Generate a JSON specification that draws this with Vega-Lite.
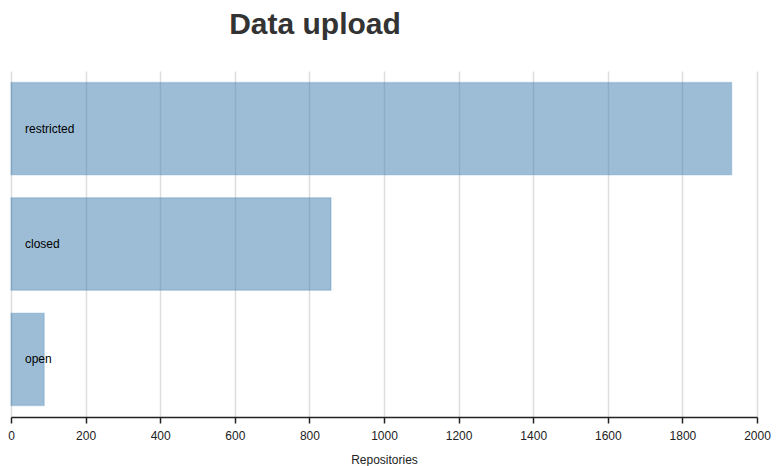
{
  "$schema": "https://vega.github.io/schema/vega-lite/v6.json",
  "width": 746,
  "height": 346,
  "autosize": {"type": "none"},
  "padding": {"left": 11, "top": 71, "right": 19, "bottom": 49},
  "title": {
    "text": "Data upload",
    "font": "Liberation Sans",
    "fontSize": 30,
    "fontWeight": "bold",
    "color": "#333333",
    "anchor": "middle",
    "frame": "group",
    "dx": -69,
    "offset": 31
  },
  "data": {
    "values": [
      {"access": "restricted", "repositories": 1932},
      {"access": "closed", "repositories": 858},
      {"access": "open", "repositories": 89}
    ]
  },
  "encoding": {
    "y": {
      "field": "access",
      "type": "nominal",
      "sort": ["restricted", "closed", "open"],
      "scale": {"paddingInner": 0.2, "paddingOuter": 0.1},
      "axis": null
    }
  },
  "layer": [
    {
      "mark": {
        "type": "bar",
        "fill": "#4682b4",
        "fillOpacity": 0.53,
        "stroke": "#4682b4",
        "strokeOpacity": 0.25,
        "strokeWidth": 1.5
      },
      "encoding": {
        "x": {
          "field": "repositories",
          "type": "quantitative",
          "scale": {"domain": [0, 2000], "nice": false},
          "axis": {
            "values": [0, 200, 400, 600, 800, 1000, 1200, 1400, 1600, 1800, 2000],
            "format": "d",
            "title": "Repositories",
            "grid": true,
            "gridColor": "#dddddd",
            "gridWidth": 1.5,
            "domainColor": "#222222",
            "domainWidth": 1.5,
            "tickColor": "#222222",
            "tickWidth": 1.5,
            "tickSize": 6,
            "labelFont": "Liberation Sans",
            "labelFontSize": 12,
            "labelColor": "#222222",
            "labelPadding": 7,
            "labelFlush": false,
            "titleFont": "Liberation Sans",
            "titleFontSize": 12,
            "titleFontWeight": "normal",
            "titleColor": "#222222",
            "titlePadding": 13
          }
        }
      }
    },
    {
      "mark": {
        "type": "text",
        "align": "left",
        "baseline": "middle",
        "dx": 14,
        "font": "Liberation Sans",
        "fontSize": 12,
        "color": "#000000"
      },
      "encoding": {
        "x": {"datum": 0, "type": "quantitative"},
        "text": {"field": "access"}
      }
    }
  ],
  "config": {"view": {"stroke": null}}
}
